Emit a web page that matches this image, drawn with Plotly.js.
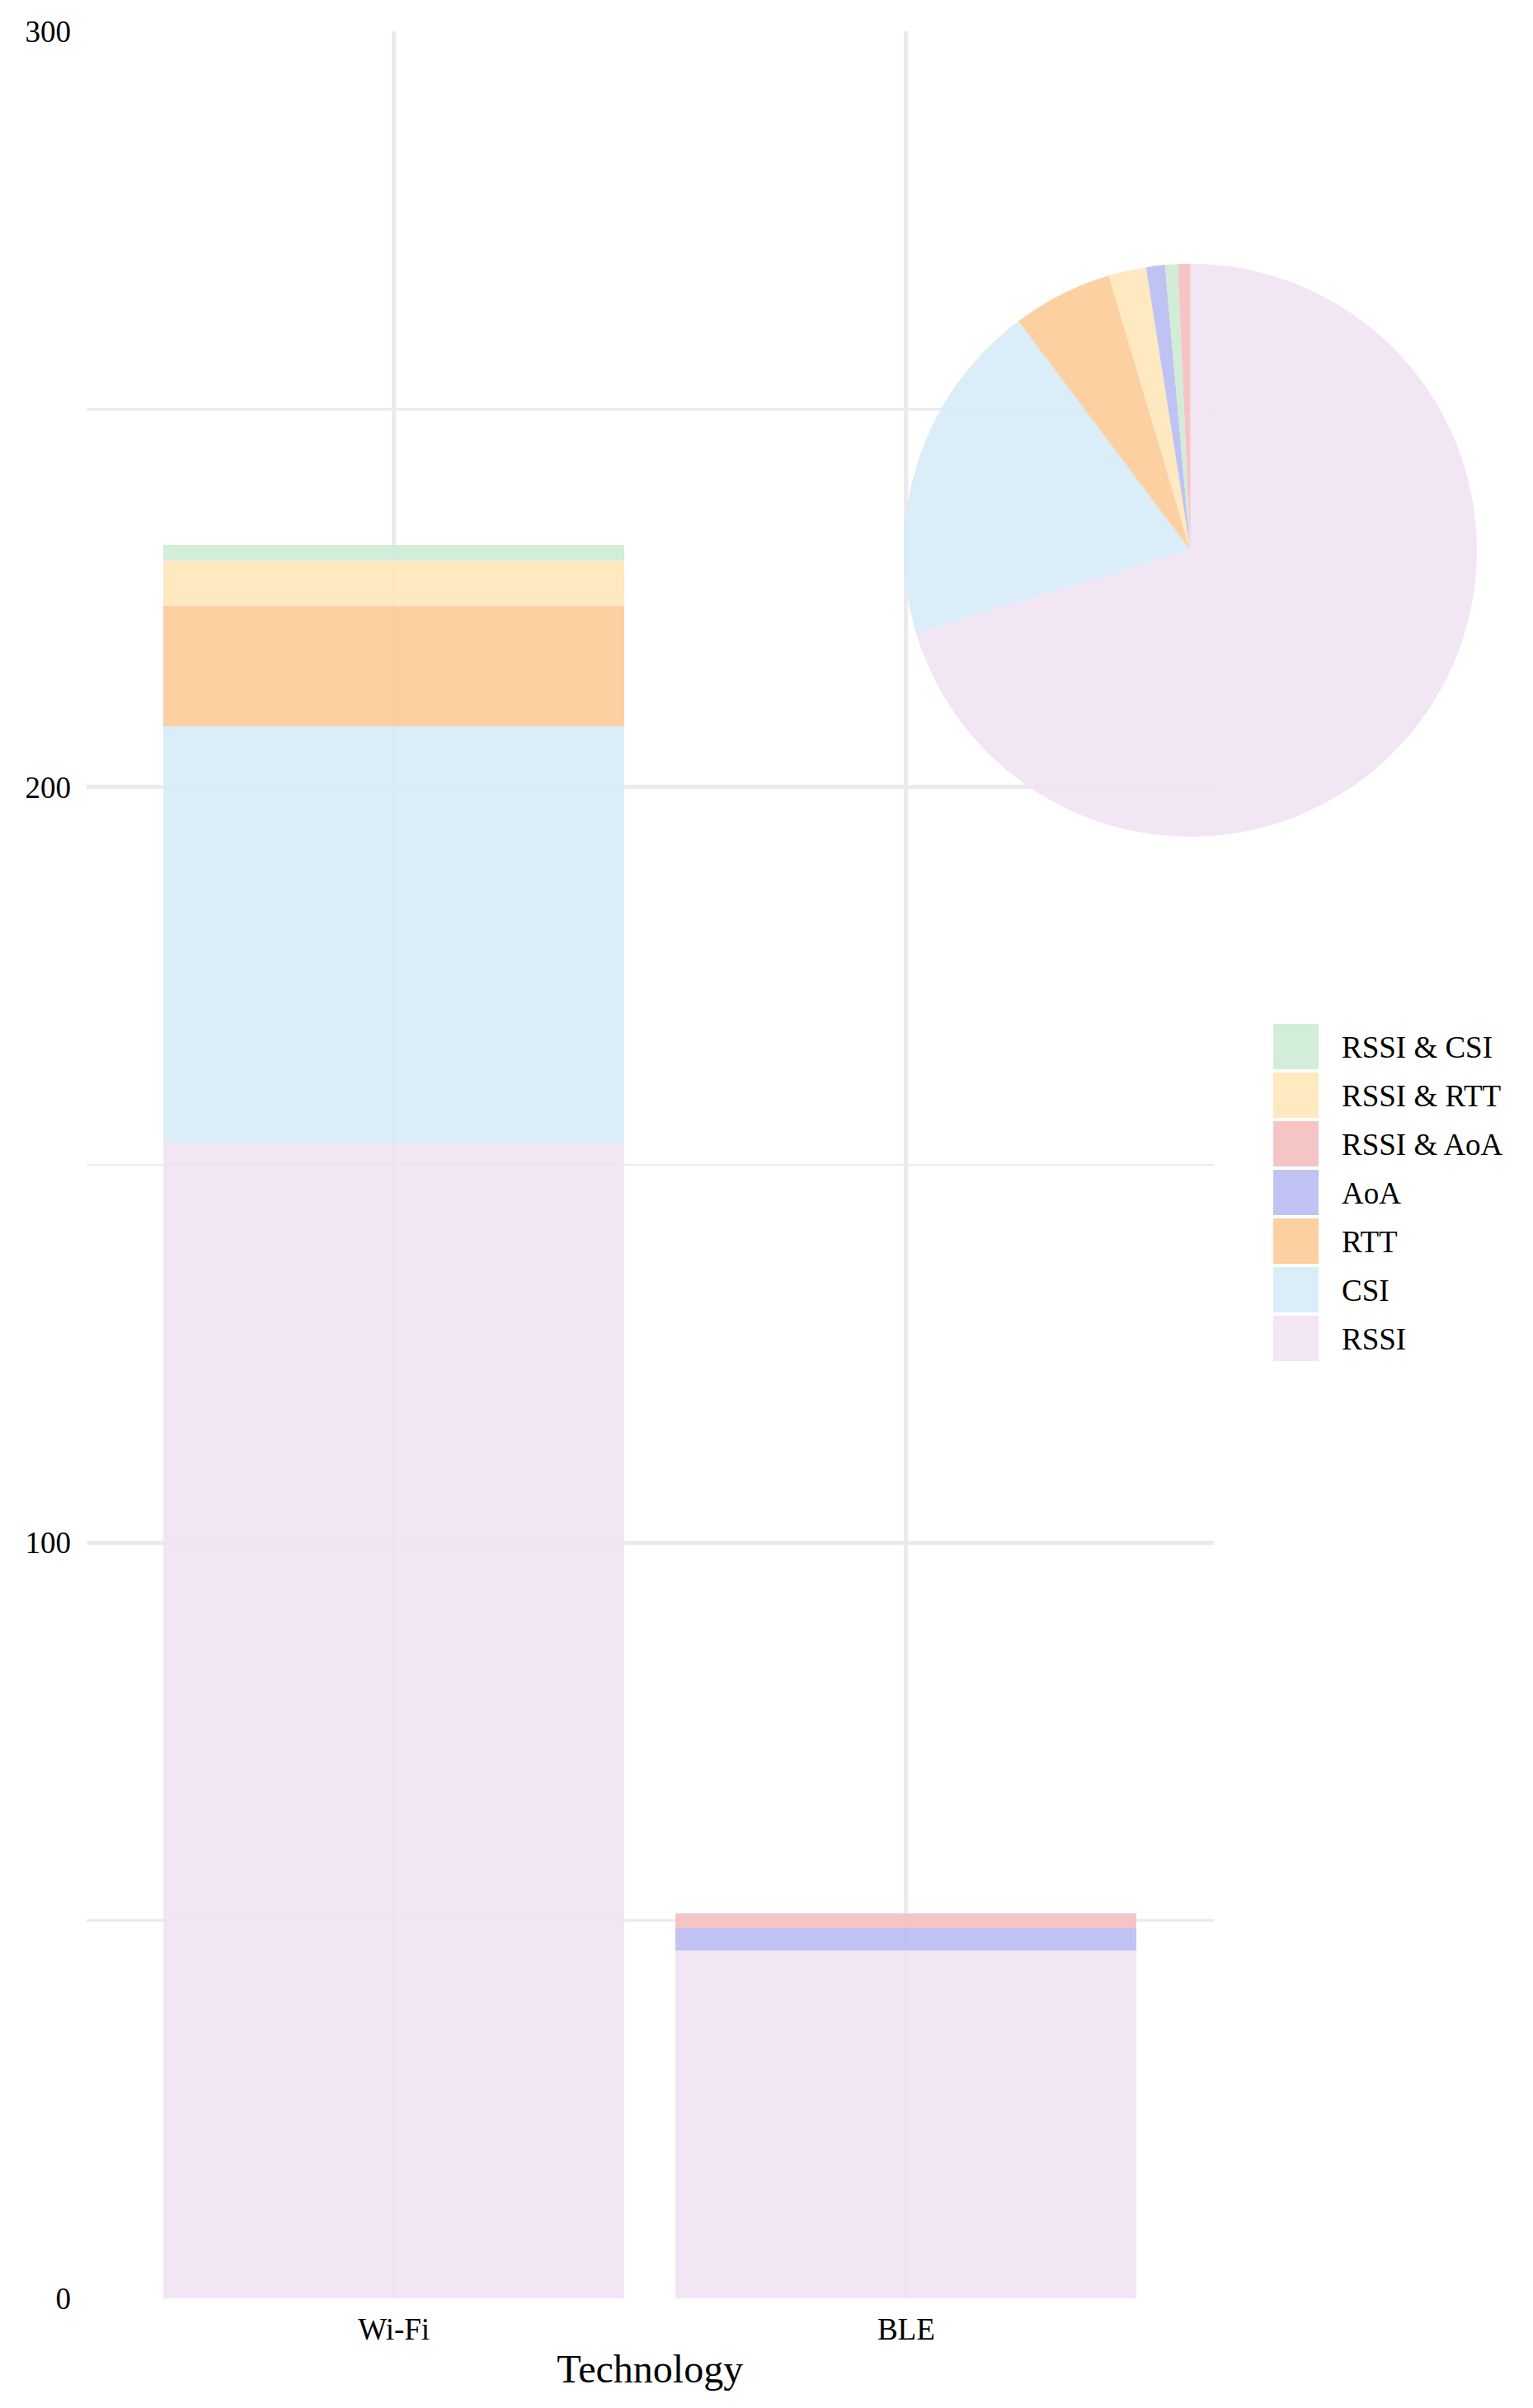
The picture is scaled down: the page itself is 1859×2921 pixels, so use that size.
<!DOCTYPE html>
<html>
<head>
<meta charset="utf-8">
<script src="https://cdn.plot.ly/plotly-3.0.1.min.js"></script>
<style>
  html, body { margin: 0; padding: 0; background: #ffffff; }
  #chart { width: 1859px; height: 2921px; }
</style>
</head>
<body>
<div id="chart"></div>
<script>
// ---- data ----
const categories = ['Wi-Fi', 'BLE'];
const seriesNames = ['RSSI', 'CSI', 'RTT', 'AoA', 'RSSI & AoA', 'RSSI & RTT', 'RSSI & CSI'];
const rssi     = [153, 46];
const csi      = [55, 0];
const rtt      = [16, 0];
const aoa      = [0, 3];
const rssiAoa  = [0, 2];
const rssiRtt  = [6, 0];
const rssiCsi  = [2, 0];
const seriesValues = [rssi, csi, rtt, aoa, rssiAoa, rssiRtt, rssiCsi];
const seriesColors = ['#f1e3f3', '#d6ecf8', '#fdcb98', '#b9bdf2', '#f4bfc0', '#fee7ba', '#cdecd4'];
const yTickVals = [0, 100, 200, 300];
const xTitle = 'Technology';

// ---- geometry (page pixels) ----
const W = 1859, H = 2921;
const FONT = 'Liberation Serif, Times New Roman, serif';
const GRID = '#ebebeb';

// ---- bar traces ----
const traces = seriesNames.map((name, i) => ({
  type: 'bar',
  name: name,
  x: categories,
  y: seriesValues[i],
  marker: { color: seriesColors[i], line: { width: 0 } },
  opacity: 0.9,
  showlegend: false,
  hoverinfo: 'x+y+name'
}));

// ---- pie trace (totals per series, legend order so ties keep that order) ----
const pieOrder = seriesNames.map((_, i) => i).reverse();
traces.push({
  type: 'pie',
  labels: pieOrder.map(i => seriesNames[i]),
  values: pieOrder.map(i => seriesValues[i].reduce((a, b) => a + b, 0)),
  marker: { colors: pieOrder.map(i => seriesColors[i]), line: { width: 0 } },
  sort: true,
  direction: 'clockwise',
  rotation: 0,
  textinfo: 'none',
  opacity: 0.9,
  showlegend: false,
  domain: { x: [1096 / W, 1791 / W], y: [1 - 1015 / H, 1 - 320 / H] }
});

// ---- custom legend (built from series arrays, reversed like a stack) ----
const shapes = [];
const annotations = [];
const legX0 = 1544, legSize = 55, legTop = 1242, legPitch = 59, legTextX = 1625;
pieOrder.forEach((si, k) => {
  const top = legTop + k * legPitch;
  shapes.push({
    type: 'rect', xref: 'paper', yref: 'paper',
    x0: legX0 / W, x1: (legX0 + legSize) / W,
    y0: 1 - (top + legSize) / H, y1: 1 - top / H,
    fillcolor: seriesColors[si], opacity: 0.9, line: { width: 0 }
  });
  annotations.push({
    xref: 'paper', yref: 'paper',
    x: legTextX / W, y: 1 - (top + legSize / 2 + 1) / H,
    xanchor: 'left', yanchor: 'middle',
    text: seriesNames[si], showarrow: false,
    font: { family: FONT, size: 37, color: '#000000' }
  });
});

const layout = {
  width: W, height: H,
  margin: { l: 0, r: 0, t: 0, b: 0, pad: 0 },
  paper_bgcolor: '#ffffff',
  plot_bgcolor: '#ffffff',
  barmode: 'stack',
  bargap: 0.1,
  showlegend: false,
  font: { family: FONT, size: 37, color: '#000000' },
  xaxis: {
    type: 'category',
    domain: [105 / W, 1471.5 / W],
    range: [-0.6, 1.6],
    showgrid: true, gridcolor: GRID, gridwidth: 5,
    zeroline: false, showline: false, ticks: '',
    ticklabelstandoff: 12,
    tickfont: { family: FONT, size: 37, color: '#000000' },
    title: { text: xTitle, font: { family: FONT, size: 48, color: '#000000' }, standoff: 11 },
    fixedrange: true
  },
  yaxis: {
    domain: [1 - 2788 / H, 1 - 38 / H],
    range: [0, 300],
    tickmode: 'array', tickvals: yTickVals, ticktext: yTickVals.map(String),
    showgrid: true, gridcolor: GRID, gridwidth: 4.5,
    minor: { dtick: 50, tick0: 0, showgrid: true, gridcolor: GRID, gridwidth: 2.7, ticks: '' },
    zeroline: false, showline: false, ticks: '',
    ticklabelstandoff: 18,
    tickfont: { family: FONT, size: 37, color: '#000000' },
    fixedrange: true
  },
  shapes: shapes,
  annotations: annotations
};

Plotly.newPlot('chart', traces, layout, { displayModeBar: false, staticPlot: true });
</script>
</body>
</html>
